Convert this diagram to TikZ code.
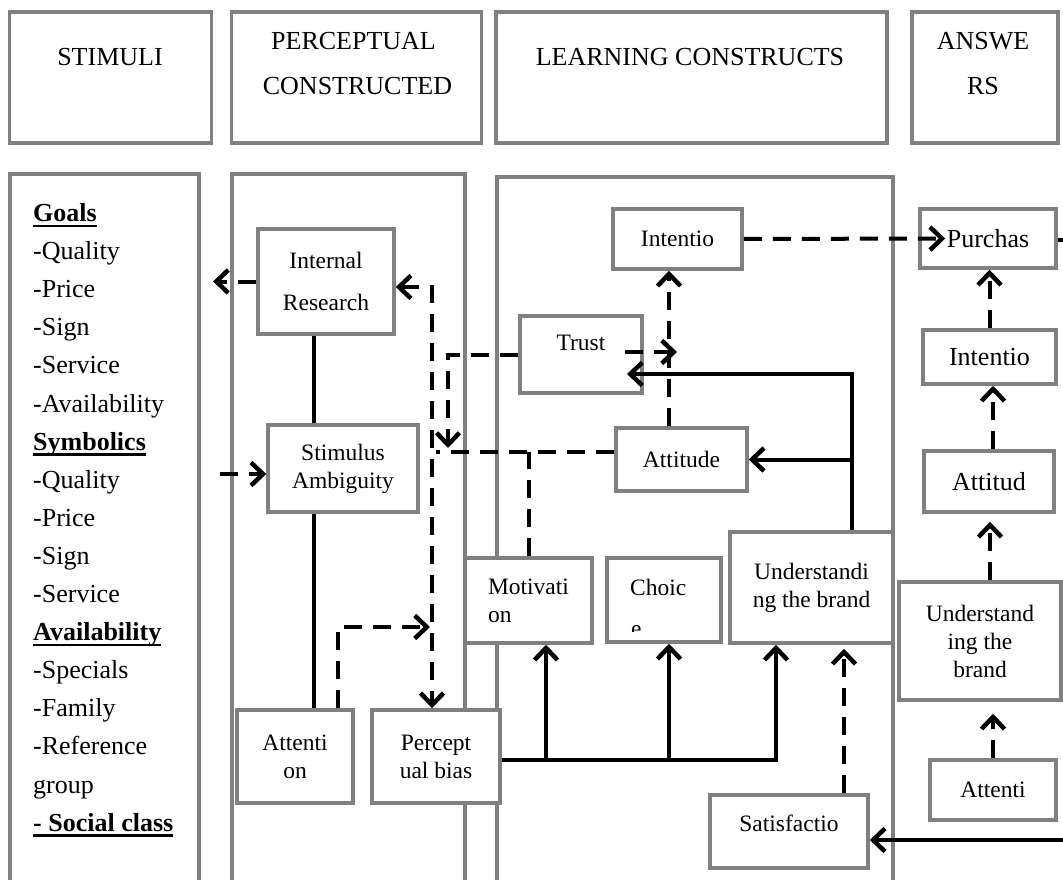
\documentclass[tikz,border=0pt]{standalone}
\usepackage{fontspec}
\setmainfont{Liberation Serif}
\usetikzlibrary{arrows.meta}
\definecolor{boxgray}{RGB}{128,128,128}
\newcommand{\boxfont}{\fontsize{23.5}{28}\selectfont}
\newcommand{\bigfont}{\fontsize{26}{30}\selectfont}
\newcommand{\ubf}[1]{\setbox0\hbox{\textbf{#1}}\rlap{\rule[-5.5pt]{\wd0}{2.5pt}}\box0}
\newcommand{\lift}[2]{\raisebox{#1}[\height][\depth]{#2}}

\begin{document}
\begin{tikzpicture}[x=1pt, y=-1pt,
  >={Straight Barb[length=12pt,width=23pt,line width=4.5pt]},
  panel/.style={draw=boxgray, line width=3.5pt},
  box/.style={draw=boxgray, line width=3.5pt, fill=white, inner sep=0pt, align=center, font=\boxfont},
  bigbox/.style={box, font=\bigfont},
  hdrtext/.style={font=\bigfont, anchor=base, inner sep=0pt},
  listtext/.style={font=\bigfont, anchor=base west, inner sep=0pt},
  link/.style={line width=4pt},
  arrow/.style={link, ->},
  dashlink/.style={link, dash pattern=on 18pt off 11pt},
  dasharrow/.style={dashlink, ->},
]
\useasboundingbox (0,0) rectangle (1063,880);

% headers
\node[box, minimum width=202pt, minimum height=131pt] (stimhdr) at (110.5,77.5) {};
\node[box, minimum width=250pt, minimum height=131pt] (perchdr) at (356.5,77.5) {};
\node[box, minimum width=391pt, minimum height=131pt] (learnhdr) at (691.5,77.5) {};
\node[box, minimum width=146pt, minimum height=131pt] (answhdr) at (985,77.5) {};
\node[hdrtext] (stimtxt) at (110,66) {STIMULI};
\node[hdrtext] (perctxt) at (353.5,49.3) {PERCEPTUAL};
\node[hdrtext] (perctxtb) at (357.5,95) {CONSTRUCTED};
\node[hdrtext] (learntxt) at (690,66) {LEARNING CONSTRUCTS};
\node[hdrtext] (answtxt) at (983,49.3) {ANSWE};
\node[hdrtext] (answtxtb) at (983,95) {RS};

% panels
\draw[panel] (10,174) rectangle (199,900);
\draw[panel] (232,174) rectangle (465,900);
\draw[panel] (497,177) rectangle (893,900);

% stimuli list
\foreach \entry [count=\k from 0] in {\ubf{Goals}, -Quality, -Price, -Sign, -Service, -Availability,
    \ubf{Symbolics}, -Quality, -Price, -Sign, -Service, \ubf{Availability},
    -Specials, -Family, -Reference, group, \ubf{- Social class}}
  \node[listtext] (stim\k) at (33,221.5+38.1*\k) {\entry};

% perceptual boxes
\node[box, minimum width=136pt, minimum height=105pt] (ir) at (326,281.5) {Internal\\[14pt]Research};
\node[box, minimum width=150pt, minimum height=87pt] (sa) at (343,468.5) {Stimulus\\Ambiguity};
\node[box, minimum width=116pt, minimum height=93pt] (att) at (295,756.5) {Attenti\\on};
\node[box, minimum width=128pt, minimum height=93pt] (pb) at (436,756.5) {Percept\\ual bias};

% learning boxes
\node[box, minimum width=129pt, minimum height=60pt] (intl) at (677.5,239) {Intentio};
\node[box, minimum width=122pt, minimum height=77pt] (trust) at (581,354.5) {\lift{11.5pt}{Trust}};
\node[box, minimum width=131pt, minimum height=63pt] (attl) at (681.5,459.5) {Attitude};
\node[box, minimum width=127pt, minimum height=85pt, align=left] (mot) at (528.5,600.5) {Motivati\\on};
\node[box, minimum width=114pt, minimum height=84pt] (cho) at (664,600) {};
\node[box, minimum width=163pt, minimum height=111pt] (und) at (811.5,587.5) {Understandi\\ng the brand};
\node[box, minimum width=158pt, minimum height=73pt] (sat) at (789,831.5) {\lift{8.5pt}{Satisfactio}};
\node[font=\boxfont, anchor=base west, inner sep=0pt] (chotxt) at (630,595) {Choic};
\begin{scope}
  \clip (610,600) rectangle (718,631);
  \node[font=\boxfont, anchor=base west, inner sep=0pt] (choe) at (631,636) {e};
\end{scope}

% answer boxes
\node[bigbox, minimum width=136pt, minimum height=59pt] (pur) at (988,238.5) {Purchas};
\node[bigbox, minimum width=133pt, minimum height=54pt] (intr) at (989.5,357) {Intentio};
\node[bigbox, minimum width=130pt, minimum height=61pt] (attr) at (989,481.5) {Attitud};
\node[box, minimum width=162pt, minimum height=118pt] (undr) at (980,641) {Understand\\ing the\\brand};
\node[box, minimum width=126pt, minimum height=60pt] (atr) at (993,790) {Attenti};

% perceptual links
\coordinate (goalin) at (213,281.5);
\draw[dasharrow] (ir.west) -- (goalin);
\coordinate (symout) at (220,474);
\draw[dasharrow] (symout) -- (symout -| sa.west);
\draw[link] ([xshift=-12pt]ir.south) -- ([xshift=-12pt]ir.south |- sa.north);
\draw[link] ([xshift=-29pt]sa.south) -- ([xshift=-29pt]sa.south |- att.north);
\coordinate (bend) at (432,287);
\draw[dashlink, <->] (ir.east |- bend) -- (bend) -- (bend |- pb.north);
\coordinate (attin) at (430,627);
\draw[dasharrow] ([xshift=43pt]att.north) |- (attin);

% learning links
\coordinate (trustdrop) at (448,448);
\draw[dasharrow] (trust.west) -| (trustdrop);
\coordinate (trustout) at (677,352);
\draw[dasharrow] ([xshift=-19pt]trust.east |- trustout) -- (trustout);
\draw[dasharrow] ([xshift=-12.5pt]attl.north) -- ([xshift=-12.5pt]attl.north |- intl.south);
\coordinate (trustin) at (627,374);
\draw[arrow] ([xshift=40.5pt]und.north) |- (trustin);
\draw[arrow] ([xshift=40.5pt]und.north |- attl.east) -- (attl.east);
\coordinate (attjoin) at (436,452);
\draw[dashlink] (attl.west |- attjoin) -- (attjoin);
\draw[dashlink] (mot.north) -- (mot.north |- attjoin);
\coordinate (bus) at (776,760);
\draw[arrow] (pb.east |- bus) -| ([xshift=-35.5pt]und.south);
\draw[arrow] ([xshift=17.5pt]mot.south |- bus) -- ([xshift=17.5pt]mot.south);
\draw[arrow] ([xshift=5pt]cho.south |- bus) -- ([xshift=5pt]cho.south);
\draw[dasharrow, shorten >=4pt] ([xshift=55pt]sat.north) -- ([xshift=55pt]sat.north |- und.south);

% answer links
\coordinate (rightin) at (1075,840);
\draw[arrow] (rightin) -- (rightin -| sat.east);
\draw[dasharrow] (intl.east) -- ([xshift=27pt]pur.west);
\coordinate (rightout) at (1075,240);
\draw[dashlink] (pur.east |- rightout) -- (rightout);
\draw[dasharrow] (intr.north) -- (intr.north |- pur.south);
\draw[dasharrow] ([xshift=4pt]attr.north) -- ([xshift=4pt]attr.north |- intr.south);
\draw[dasharrow, shorten >=8pt] ([xshift=10pt]undr.north) -- ([xshift=10pt]undr.north |- attr.south);
\draw[dasharrow, shorten >=12pt] (atr.north) -- (atr.north |- undr.south);
\end{tikzpicture}
\end{document}
